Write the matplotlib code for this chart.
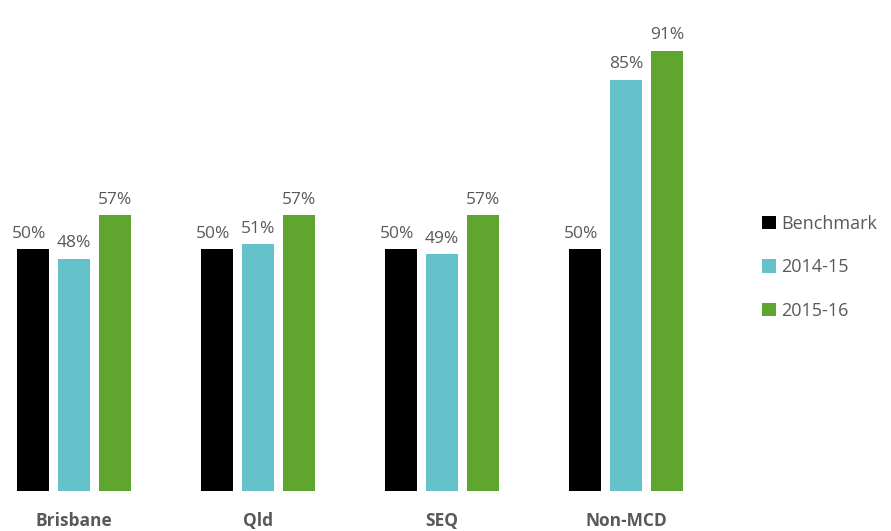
import matplotlib.pyplot as plt
import numpy as np

categories = ["Brisbane", "Qld", "SEQ", "Non-MCD"]
series = ["Benchmark", "2014-15", "2015-16"]
benchmark = [50, 50, 50, 50]
y2014 = [48, 51, 49, 85]
y2015 = [57, 57, 57, 91]
colors = ["#000000", "#65C1CA", "#5FA52F"]

plt.rcParams['font.family'] = ['Open Sans', 'DejaVu Sans']
txt = "#595959"

fig = plt.figure(figsize=(8.91, 5.31), dpi=100)
ax = fig.add_axes([0, 40 / 531, 720 / 891, 491 / 531])

x = np.arange(len(categories))
w = 32 / 184
step = 41 / 184
for i, (vals, name) in enumerate(zip([benchmark, y2014, y2015], series)):
    pos = x + (i - 1) * step
    ax.bar(pos, vals, width=w, color=colors[i], label=name)
    for p, v in zip(pos, vals):
        dx = -0.02 if i == 0 else 0
        ax.text(p + dx, v + 1.5, f"{v}%", ha="center", va="bottom", fontsize=12.5, color=txt)

ax.set_xlim(-74 / 184, (720 - 74) / 184)
ax.set_ylim(0, 491 / 4.84)
ax.axis("off")
for xi, c in zip(x, categories):
    ax.text(xi, -6.2, c, ha="center", va="center", fontsize=12.5, fontweight="bold", color=txt)

fig.legend(loc="upper left", bbox_to_anchor=(753 / 891, 1 - 206 / 531), frameon=False,
           fontsize=13, labelcolor=txt, handlelength=0.75, handleheight=0.75,
           handletextpad=0.3, labelspacing=1.4, borderpad=0)
fig.savefig("out.png", dpi=100)
